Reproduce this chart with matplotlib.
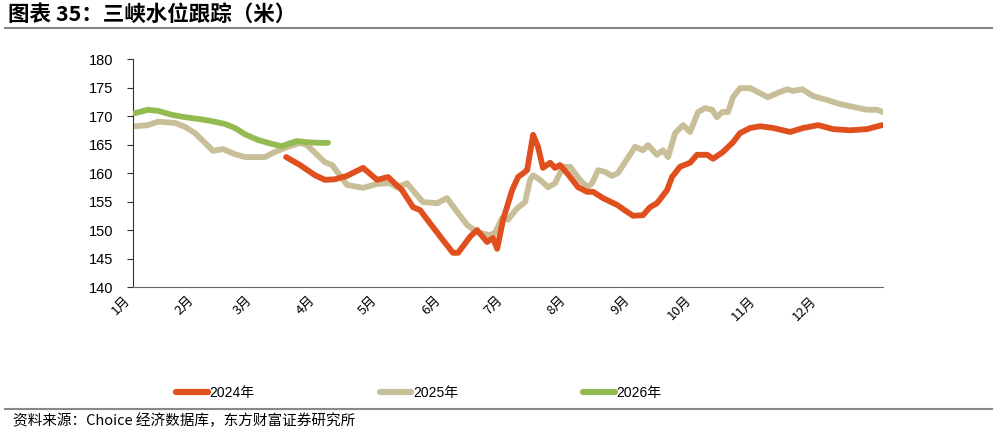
import numpy as np
import matplotlib
matplotlib.use('Agg')
import matplotlib.pyplot as plt
from matplotlib.lines import Line2D

plt.rcParams['font.family'] = ['Liberation Sans', 'Noto Sans CJK SC', 'DejaVu Sans']

# day of year, water level (m)
days_2024 = [74.5, 81.3, 88.6, 93.4, 98.3, 104.2, 108.0, 112.0, 118.8, 124.1, 130.9, 136.3,
             139.7, 144.5, 150.9, 155.7, 158.2, 164.0, 167.4, 172.3, 175.2, 177.2, 180.1,
             184.5, 187.4, 190.8, 191.8, 194.7, 197.1, 199.5, 203.0, 205.4, 207.8, 211.2,
             216.6, 221.0, 223.9, 228.7, 235.6, 240.4, 243.4, 248.2, 251.6, 255.0, 259.9,
             262.3, 266.2, 271.1, 274.5, 279.4, 282.3, 287.1, 292.0, 295.4, 300.3, 305.2,
             311.5, 319.8, 326.1, 333.4, 340.7, 349.0, 357.2, 364.5]
level_2024 = [162.8, 161.4, 159.6, 158.8, 158.9, 159.5, 160.2, 160.9, 158.8, 159.3, 157.0, 154.0,
              153.5, 151.2, 148.2, 146.0, 146.0, 148.8, 150.0, 147.9, 148.6, 146.7, 151.8,
              157.0, 159.3, 160.2, 160.5, 166.7, 164.6, 160.9, 161.8, 160.9, 161.4, 160.0,
              157.5, 156.7, 156.7, 155.6, 154.4, 153.2, 152.5, 152.6, 154.0, 154.7, 157.0,
              159.3, 161.1, 161.8, 163.2, 163.2, 162.5, 163.7, 165.4, 167.0, 167.9, 168.2,
              167.9, 167.2, 167.9, 168.4, 167.7, 167.5, 167.7, 168.4]

days_2025 = [1.0, 7.3, 12.2, 20.4, 25.3, 30.2, 35.0, 38.9, 43.8, 49.6, 54.5, 64.2, 69.1, 75.4,
             81.3, 84.7, 89.6, 93.4, 96.9, 99.8, 104.2, 112.0, 118.8, 125.1, 128.5, 133.4,
             138.2, 141.1, 148.0, 152.8, 157.7, 162.6, 167.4, 173.7, 176.2, 179.6, 182.5,
             186.9, 190.8, 193.2, 194.7, 198.1, 202.0, 205.4, 209.3, 212.7, 217.5, 221.0,
             223.4, 226.3, 229.7, 233.1, 236.0, 239.5, 244.3, 248.2, 250.6, 255.0, 257.9,
             260.4, 263.8, 267.7, 271.1, 275.0, 278.4, 281.8, 284.2, 286.7, 289.6, 292.0,
             295.4, 300.3, 305.2, 309.0, 313.4, 318.3, 321.2, 325.6, 331.0, 337.8, 344.1,
             350.4, 357.2, 362.1, 365.0]
level_2025 = [168.2, 168.4, 169.0, 168.8, 168.1, 167.0, 165.3, 163.9, 164.2, 163.3, 162.8, 162.8,
              163.7, 164.6, 165.3, 164.9, 163.2, 161.9, 161.4, 160.0, 157.9, 157.4, 158.1,
              158.2, 157.5, 158.2, 156.1, 154.9, 154.7, 155.6, 153.2, 150.9, 149.6, 149.1,
              149.5, 152.1, 151.8, 153.8, 154.9, 158.8, 159.6, 158.8, 157.5, 158.2, 161.1,
              161.1, 158.8, 157.5, 158.2, 160.5, 160.2, 159.5, 160.0, 161.9, 164.6, 164.0,
              164.9, 163.2, 164.0, 162.8, 167.0, 168.4, 167.2, 170.7, 171.4, 171.1, 169.8,
              170.7, 170.7, 173.3, 174.9, 174.9, 174.0, 173.3, 174.0, 174.7, 174.4, 174.7,
              173.5, 172.8, 172.1, 171.6, 171.1, 171.1, 170.7]

days_2026 = [1.0, 7.3, 12.2, 19.0, 25.3, 31.6, 38.4, 44.8, 49.6, 54.5, 60.8, 67.6, 72.5, 75.4,
             79.8, 84.7, 90.0, 94.9]
level_2026 = [170.5, 171.1, 170.9, 170.2, 169.8, 169.5, 169.1, 168.6, 167.9, 166.8, 165.8, 165.1,
              164.7, 165.1, 165.6, 165.4, 165.3, 165.3]

month_starts = [0, 31, 59, 90, 120, 151, 181, 212, 243, 273, 304, 334]
month_labels = ['1月', '2月', '3月', '4月', '5月', '6月', '7月', '8月', '9月', '10月', '11月', '12月']

c24 = '#E0501E'
c25 = '#C8BE98'
c26 = '#94BA52'

fig = plt.figure(figsize=(9.97, 4.34), dpi=100)
ax = fig.add_axes([0.1334, 0.3387, 0.7523, 0.5253])

ax.plot(days_2024, level_2024, color=c24, lw=4.2, solid_capstyle='round', label='2024年', zorder=3)
ax.plot(days_2025, level_2025, color=c25, lw=4.2, solid_capstyle='round', label='2025年', zorder=2)
ax.plot(days_2026, level_2026, color=c26, lw=4.2, solid_capstyle='round', label='2026年', zorder=4)

ax.set_xlim(0, 365)
ax.set_ylim(140, 180)
ax.set_yticks(np.arange(140, 181, 5))
ax.set_xticks(month_starts)
ax.set_xticklabels(month_labels, rotation=45, ha='right', va='top', fontsize=9.5,
                   family=['Noto Sans CJK SC', 'DejaVu Sans'])
ax.tick_params(axis='x', length=0, pad=5)
ax.tick_params(axis='y', length=4, direction='out', labelsize=10.5, color='#333333', pad=10)
for s in ['top', 'right']:
    ax.spines[s].set_visible(False)
ax.spines['left'].set_color('#333333')
ax.spines['bottom'].set_color('#666666')

handles = [Line2D([], [], color=c, lw=4.5, solid_capstyle='round') for c in (c24, c25, c26)]
fig.legend(handles, ['2024年', '2025年', '2026年'], loc='center', bbox_to_anchor=(0.42, 0.094),
           ncol=3, frameon=False, handlelength=2.3, handletextpad=0.1, columnspacing=9.0,
           prop={'family': ['Liberation Sans', 'Noto Sans CJK SC'], 'size': 10})

fig.text(0.008, 0.966, '图表 35：三峡水位跟踪（米）', fontsize=15.5, fontweight='bold',
         va='center', ha='left', family=['Noto Sans CJK SC', 'DejaVu Sans'])
fig.add_artist(Line2D([0.005, 0.995], [0.935, 0.935], color='#888888', lw=1.5))
fig.add_artist(Line2D([0.005, 0.995], [0.057, 0.057], color='#888888', lw=1.5))
fig.text(0.013, 0.031, '资料来源：Choice 经济数据库，东方财富证券研究所', fontsize=10.5,
         va='center', ha='left', family=['Noto Sans CJK SC', 'DejaVu Sans'])

fig.savefig('out.png', dpi=100)
